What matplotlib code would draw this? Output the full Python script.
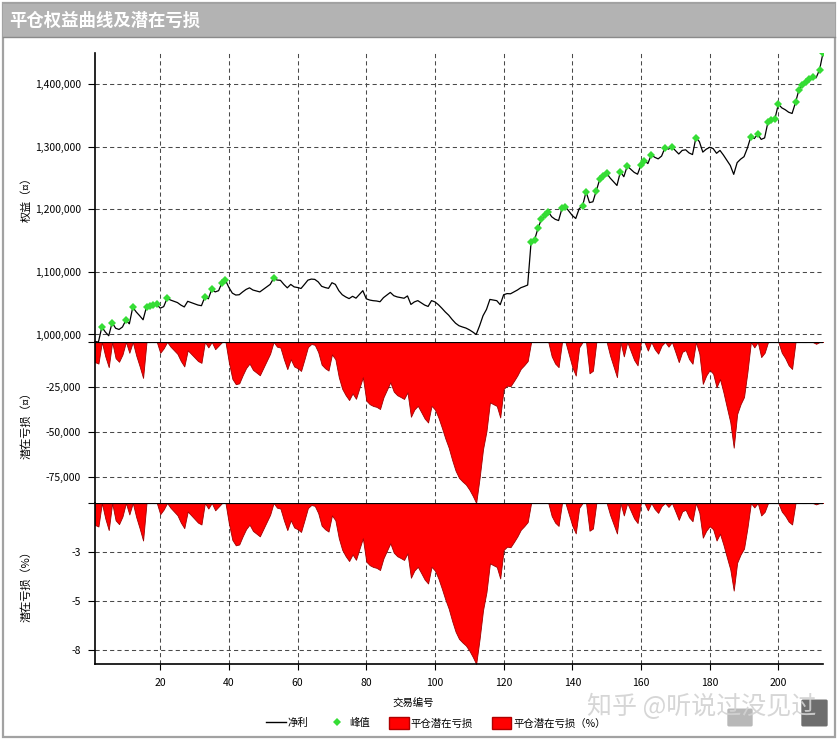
import numpy as np
import matplotlib
matplotlib.use("Agg")
import matplotlib.pyplot as plt
from matplotlib.patches import Rectangle, Patch, FancyBboxPatch
from matplotlib.lines import Line2D

plt.rcParams['font.family'] = ['Noto Sans CJK SC', 'DejaVu Sans']
plt.rcParams['axes.unicode_minus'] = False

# ---- data ----
title = "平仓权益曲线及潜在亏损"
initial_capital = 1_000_000
trade_no = np.arange(1, 214)
equity = np.array([
    988800, 988000, 1012000, 1004000, 998000, 1019000, 1010000, 1008000, 1012000, 1023000,
    1017000, 1043500, 1036000, 1030000, 1023500, 1044000, 1045000, 1046500, 1048000, 1042000,
    1044500, 1057600, 1055000, 1053000, 1051000, 1047000, 1044000, 1053000, 1051000, 1049000,
    1047000, 1046000, 1060000, 1057000, 1072000, 1068000, 1070000, 1083000, 1086500, 1075000,
    1066000, 1063000, 1063500, 1068000, 1072000, 1074500, 1071000, 1069500, 1068000, 1072000,
    1076000, 1080000, 1089600, 1087000, 1086500, 1080000, 1074500, 1080000, 1076000, 1075000,
    1073500, 1080000, 1086800, 1088500, 1088000, 1084000, 1077000, 1075000, 1073700, 1082700,
    1080000, 1070000, 1063500, 1060000, 1057300, 1061000, 1058000, 1064000, 1070000, 1057000,
    1055000, 1054000, 1053500, 1052300, 1058800, 1063000, 1067200, 1062000, 1060000, 1059000,
    1057900, 1061600, 1048000, 1052000, 1054100, 1050600, 1047000, 1044800, 1054100, 1052000,
    1047600, 1042000, 1036000, 1030800, 1024000, 1018000, 1014000, 1012000, 1010300, 1007500,
    1004000, 1000000, 1014000, 1030000, 1040000, 1056000, 1055000, 1054000, 1047600, 1063500,
    1065300, 1065000, 1067900, 1071000, 1074700, 1076700, 1079000, 1148000, 1151000, 1169600,
    1184000, 1191000, 1196000, 1188000, 1184000, 1182000, 1201600, 1204000, 1197000, 1190000,
    1185300, 1201000, 1205500, 1228000, 1210600, 1212000, 1229800, 1248000, 1253000, 1257600,
    1250000, 1244000, 1238000, 1260000, 1252000, 1269000, 1264000, 1259000, 1256000, 1271000,
    1277800, 1273000, 1287000, 1283000, 1280500, 1285000, 1298600, 1296000, 1299500, 1294000,
    1288300, 1294000, 1295000, 1290000, 1287400, 1314600, 1308000, 1291300, 1296000, 1299000,
    1297000, 1289400, 1294000, 1286600, 1278200, 1270000, 1255800, 1274500, 1280000, 1284000,
    1298000, 1316000, 1313000, 1320000, 1311600, 1314000, 1340000, 1342000, 1344500, 1368000,
    1362000, 1359000, 1355000, 1353000, 1370600, 1391000, 1398000, 1404000, 1408000, 1411000,
    1410000, 1423000, 1449600,
])
eq_ticks = [1_000_000, 1_100_000, 1_200_000, 1_300_000, 1_400_000]
dd_ticks = [0, -25_000, -50_000, -75_000]
dd_labels = ["", "-25,000", "-50,000", "-75,000"]
pct_ticks = [0, -2.5, -5.0, -7.5]
pct_labels = ["", "-3", "-5", "-8"]
x_ticks = [20, 40, 60, 80, 100, 120, 140, 160, 180, 200]
legend_labels = ["净利", "峰值", "平仓潜在亏损", "平仓潜在亏损（%）"]

# running peak and drawdown (what the chart is built from)
peak = np.maximum.accumulate(np.maximum(equity, initial_capital))
drawdown = equity - peak
drawdown_pct = drawdown / peak * 100
is_peak = equity >= peak

# ---- figure ----
W, H = 838, 741
fig = plt.figure(figsize=(W / 100, H / 100), dpi=100)


def box(x0, y0, x1, y1):
    # pixel box (top-left origin) -> figure fraction rect
    return [x0 / W, 1 - y1 / H, (x1 - x0) / W, (y1 - y0) / H]


# frame and title bar
fig.patches.append(Rectangle((3 / W, 1 - 737 / H), 832 / W, 734 / H, transform=fig.transFigure,
                             fill=False, edgecolor='#a2a2a2', lw=1.6))
fig.patches.append(Rectangle((3 / W, 1 - 37 / H), 832 / W, 33 / H, transform=fig.transFigure,
                             facecolor='#b3b3b3', edgecolor='none'))
fig.add_artist(Line2D([3 / W, 835 / W], [1 - 37 / H, 1 - 37 / H], color='#8a8a8a', lw=1))
fig.text(9 / W, 1 - 21 / H, title, color='white', fontsize=12.5, fontweight='bold',
         ha='left', va='center')

ax1 = fig.add_axes(box(95, 53, 823, 342))
ax2 = fig.add_axes(box(95, 342, 823, 503), sharex=ax1)
ax3 = fig.add_axes(box(95, 503, 823, 664), sharex=ax1)

grid_kw = dict(linestyle=(0, (4, 3)), color='#4a4a4a', linewidth=0.75)
for ax in (ax1, ax2, ax3):
    ax.set_axisbelow(True)
    ax.grid(True, **grid_kw)
    ax.spines[['top', 'right']].set_visible(False)
    ax.spines['left'].set_linewidth(1.2)
    ax.tick_params(axis='y', direction='out', length=5, width=0.8, labelsize=7.5, pad=5)
    ax.set_facecolor('none')
for ax in (ax1, ax2):
    ax.spines['bottom'].set_visible(False)
    ax.tick_params(axis='x', bottom=False, labelbottom=False)
ax3.spines['bottom'].set_linewidth(1.2)
ax3.tick_params(axis='x', direction='out', length=4, width=0.8, labelsize=7.5, pad=6)

# equity curve
ax1.plot(trade_no, equity, color='black', lw=0.9)
ax1.plot(trade_no[is_peak], equity[is_peak], ls='none', marker='D', markersize=4,
         color='#35dd35', markeredgewidth=0)
ax1.set_ylim(equity.min(), equity.max())
ax1.set_yticks(eq_ticks)
ax1.set_yticklabels([f"{v:,}" for v in eq_ticks])

# drawdown
ax2.fill_between(trade_no, drawdown, 0, facecolor='#ff0000', edgecolor='#a00000', lw=0.6)
ax2.axhline(0, color='black', lw=1.6, zorder=3)
ax2.set_ylim(drawdown.min(), 0)
ax2.set_yticks(dd_ticks)
ax2.set_yticklabels(dd_labels)

# drawdown percent
ax3.fill_between(trade_no, drawdown_pct, 0, facecolor='#ff0000', edgecolor='#a00000', lw=0.6)
ax3.axhline(0, color='black', lw=1.6, zorder=3)
ax3.set_ylim(drawdown_pct.min(), 0)
ax3.set_yticks(pct_ticks)
ax3.set_yticklabels(pct_labels)

ax1.set_xlim(trade_no[0], trade_no[-1])
ax3.set_xticks(x_ticks)

# axis titles
fig.text(26 / W, 1 - 197 / H, "权益（¤）", rotation=90, fontsize=8, ha='center', va='center')
fig.text(26 / W, 1 - 423 / H, "潜在亏损（¤）", rotation=90, fontsize=8, ha='center', va='center')
fig.text(26 / W, 1 - 584 / H, "潜在亏损（%）", rotation=90, fontsize=8, ha='center', va='center')
fig.text(413 / W, 1 - 704 / H, "交易编号", fontsize=7.5, ha='center', va='center')

# legend
handles = [
    Line2D([], [], color='black', lw=1),
    Line2D([], [], ls='none', marker='D', markersize=4, color='#35dd35', markeredgewidth=0),
    Patch(facecolor='#ff0000', edgecolor='#b00000'),
    Patch(facecolor='#ff0000', edgecolor='#b00000'),
]
fig.legend(handles, legend_labels, loc='center', bbox_to_anchor=(436 / W, 1 - 723 / H),
           ncol=4, frameon=False, fontsize=7.5, handlelength=1.9, handleheight=1.4,
           handletextpad=0.2, columnspacing=1.8)

# watermark
fig.patches.append(FancyBboxPatch((729 / W, 1 - 725 / H), 22 / W, 15 / H, transform=fig.transFigure,
                                  boxstyle='round,pad=0.002', facecolor='#b8b8b8', edgecolor='none'))
fig.patches.append(FancyBboxPatch((803 / W, 1 - 725 / H), 23 / W, 24 / H, transform=fig.transFigure,
                                  boxstyle='round,pad=0.002', facecolor='#6e6e6e', edgecolor='none'))
fig.text(702 / W, 1 - 707 / H, "知乎 @听说过没见过", fontsize=18, color='#d2d2d2',
         ha='center', va='center', alpha=0.9)

fig.savefig("out.png", dpi=100)
